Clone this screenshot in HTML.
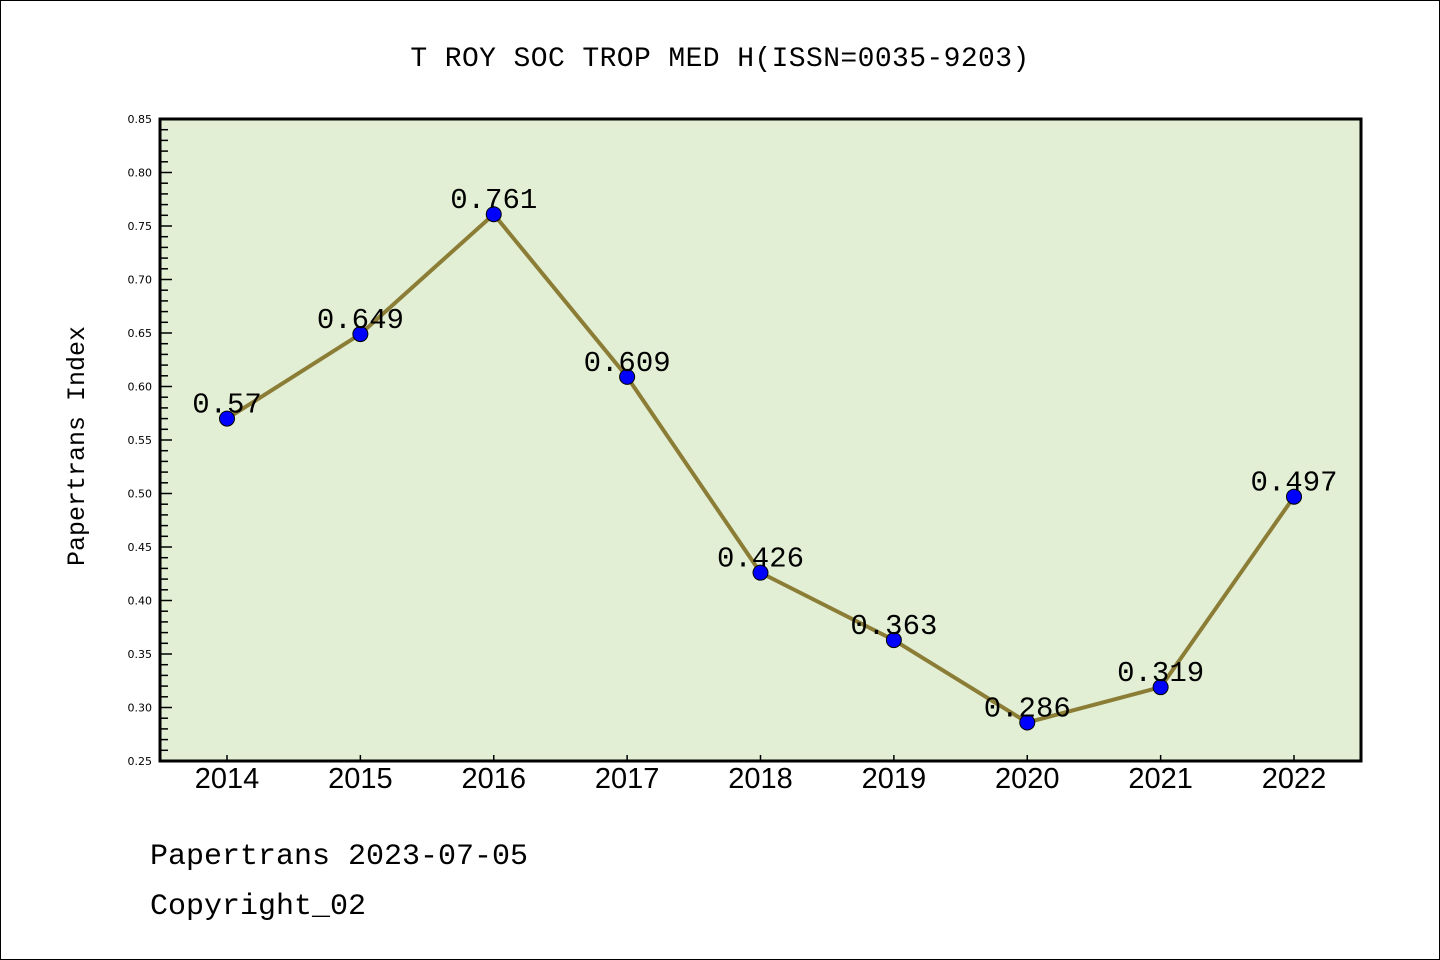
<!DOCTYPE html>
<html><head><meta charset="utf-8"><style>
body{margin:0;background:#fff}
svg{display:block}
</style></head><body>
<svg width="1440" height="960" xmlns="http://www.w3.org/2000/svg">
<rect x="0.5" y="0.5" width="1439" height="959" fill="#fff" stroke="#000"/>
<text x="720" y="66" text-anchor="middle" font-family="Liberation Mono, monospace" font-size="28" letter-spacing="0.4">T ROY SOC TROP MED H(ISSN=0035-9203)</text>
<rect x="160" y="119" width="1201" height="642" fill="#e2efd5"/>
<g id="axes"></g>
<g id="marks"></g>
<rect x="160" y="119" width="1201" height="642" fill="none" stroke="#000" stroke-width="3"/>
<text transform="translate(84,446) rotate(-90)" text-anchor="middle" font-family="Liberation Mono, monospace" font-size="25">Papertrans Index</text>
<text x="150" y="864" font-family="Liberation Mono, monospace" font-size="30">Papertrans 2023-07-05</text>
<text x="150" y="914" font-family="Liberation Mono, monospace" font-size="30">Copyright_02</text>
</svg>
<script>
const years=['2014','2015','2016','2017','2018','2019','2020','2021','2022'];
const values=[0.57,0.649,0.761,0.609,0.426,0.363,0.286,0.319,0.497];
const valueLabels=['0.57','0.649','0.761','0.609','0.426','0.363','0.286','0.319','0.497'];
const yTicks=['0.25','0.30','0.35','0.40','0.45','0.50','0.55','0.60','0.65','0.70','0.75','0.80','0.85'];
const NS='http://www.w3.org/2000/svg';
const yMin=0.25,yMax=0.85,plotTop=119,plotBot=761;
function ys(v){return plotBot-(v-yMin)/(yMax-yMin)*(plotBot-plotTop);}
function xs(i){return 227+i*(1294-227)/(years.length-1);}
function mk(t,a,p){const e=document.createElementNS(NS,t);for(const k in a)e.setAttribute(k,a[k]);p.appendChild(e);return e;}
const ax=document.getElementById('axes'),mg=document.getElementById('marks');
for(let k=0;k<=60;k++){
  const v=yMin+k*0.01,y=ys(v);
  const major=k%5===0;
  const l=mk('line',{x1:160,x2:major?172:168,y1:y,y2:y,stroke:'#000','stroke-width':1.5},ax);
  
  
}
yTicks.forEach(t=>{
  const e=mk('text',{x:152,y:ys(parseFloat(t))+4,'text-anchor':'end','font-family':'DejaVu Sans, sans-serif','font-size':11},ax);
  e.textContent=t;
  
  
});
years.forEach((yr,i)=>{
  const l=mk('line',{x1:xs(i),x2:xs(i),y1:plotBot,y2:plotBot-6,stroke:'#000','stroke-width':1.5},ax);
  
  
  const e=mk('text',{x:xs(i),y:788,'text-anchor':'middle','font-family':'Liberation Sans, sans-serif','font-size':29},ax);
  e.textContent=yr;
  
  
});
const pl=mk('polyline',{points:values.map((v,i)=>xs(i)+','+ys(v)).join(' '),fill:'none',stroke:'#8b7d35','stroke-width':4},mg);


values.forEach((v,i)=>{
  const c=mk('circle',{cx:xs(i),cy:ys(v),r:7.5,fill:'#0000ff',stroke:'#000','stroke-width':1},mg);
  
  
});
values.forEach((v,i)=>{
  const t=mk('text',{x:xs(i),y:ys(v)-6,'text-anchor':'middle','font-family':'Liberation Mono, monospace','font-size':29},mg);
  t.textContent=valueLabels[i];
  
  
});
</script>
</body></html>
